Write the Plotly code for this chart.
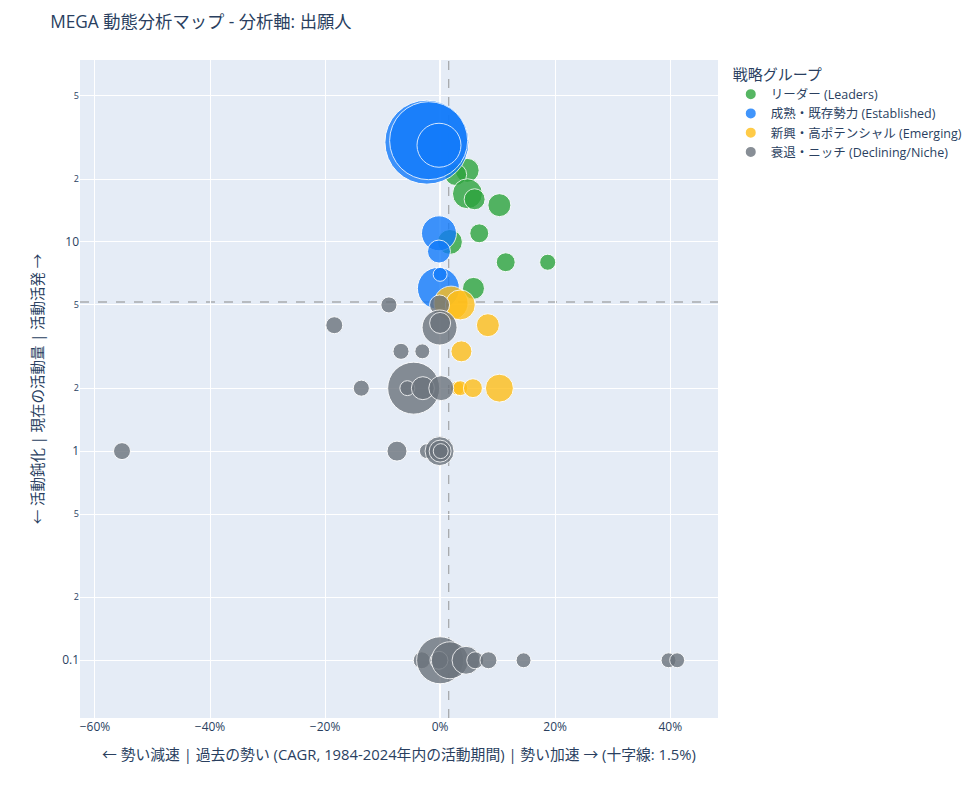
import plotly.graph_objects as go

# 戦略グループ別データ: CAGR(過去の勢い), 現在の活動量, 累計件数(バブルサイズ)
leaders_cagr = [0.047, 0.027, 0.0475, 0.060, 0.103, 0.068, 0.017, 0.114, 0.187, 0.058]
leaders_recent = [22, 21, 17, 16, 15, 11, 10, 8, 8, 6]
leaders_total = [98, 82, 153, 75, 90, 61, 106, 61, 44, 82]

established_cagr = [-0.023, -0.020, -0.002, -0.002, -0.002, -0.003, 0.000]
established_recent = [30, 30.5, 29, 11, 9, 6, 7]
established_total = [1200, 1035, 329, 208, 90, 300, 33]

emerging_cagr = [0.019, 0.035, 0.083, 0.037, 0.030, 0.035, 0.057, 0.103]
emerging_recent = [5.1, 5.0, 4, 3, 2, 2, 2, 2]
emerging_total = [197, 153, 90, 75, 33, 38, 61, 133]

declining_cagr = [-0.089, -0.001, -0.184, -0.001, 0.000, -0.068, -0.031,
                  -0.137, -0.046, -0.057, -0.030, 0.002,
                  -0.075, -0.023, -0.001, 0.000, 0.001, -0.553,
                  -0.032, 0.000, -0.002, 0.017, 0.045, 0.061, 0.084, 0.145, 0.397, 0.412]
declining_recent = [5, 5, 4, 3.9, 4.1, 3, 3,
                    2, 2, 2, 2, 2,
                    1, 1, 1, 1, 1, 1,
                    0.1, 0.1, 0.1, 0.1, 0.1, 0.1, 0.1, 0.1, 0.1, 0.1]
declining_total = [44, 68, 49, 208, 75, 44, 38,
                   44, 460, 38, 90, 106,
                   68, 38, 143, 82, 38, 49,
                   49, 376, 55, 233, 133, 49, 49, 38, 38, 38]

groups = [
    ("リーダー (Leaders)", "#2DA43D", leaders_cagr, leaders_recent, leaders_total),
    ("成熟・既存勢力 (Established)", "#127BFB", established_cagr, established_recent, established_total),
    ("新興・高ポテンシャル (Emerging)", "#FFBF1A", emerging_cagr, emerging_recent, emerging_total),
    ("衰退・ニッチ (Declining/Niche)", "#6B737C", declining_cagr, declining_recent, declining_total),
]

cagr_cross = 0.015
recent_cross = 5.16
size_max = 84
max_total = max(max(g[4]) for g in groups)
sizeref = 2.0 * max_total / size_max ** 2

fig = go.Figure()
for name, color, xs, ys, sizes in groups:
    fig.add_trace(go.Scatter(
        x=xs, y=ys, mode="markers", name=name,
        marker=dict(size=sizes, sizemode="area", sizeref=sizeref, color=color,
                    opacity=0.8, line=dict(width=1, color="white")),
    ))

# 十字線 (中央値)
fig.add_hline(y=recent_cross, line_dash="dash", line_color="gray",
              line_width=1.5, opacity=0.6, layer="below")
fig.add_vline(x=cagr_cross, line_dash="dash", line_color="gray",
              line_width=1, opacity=0.8, layer="below")

fig.update_layout(
    width=980, height=800,
    template="plotly",
    font=dict(family="Open Sans, Noto Sans CJK JP, sans-serif"),
    title=dict(text="MEGA 動態分析マップ - 分析軸: 出願人",
               x=0.043, y=0.983, yanchor="middle", font=dict(size=17.3)),
    legend=dict(title_text="戦略グループ", itemsizing="constant",
                font=dict(size=12.5)),
    margin=dict(l=72, r=270, t=52, b=90),
)
fig.update_xaxes(
    title_text="← 勢い減速 | 過去の勢い (CAGR, 1984-2024年内の活動期間) | 勢い加速 → (十字線: 1.5%)",
    title_font_size=14.8,
    tickformat=".0%", dtick=0.2, range=[-0.626, 0.483],
)
fig.update_yaxes(
    title_text="← 活動鈍化 | 現在の活動量 | 活動活発 →",
    title_font_size=14.5,
    type="log", dtick="D2", range=[-1.276, 1.87],
)

fig.write_html("out.html")
